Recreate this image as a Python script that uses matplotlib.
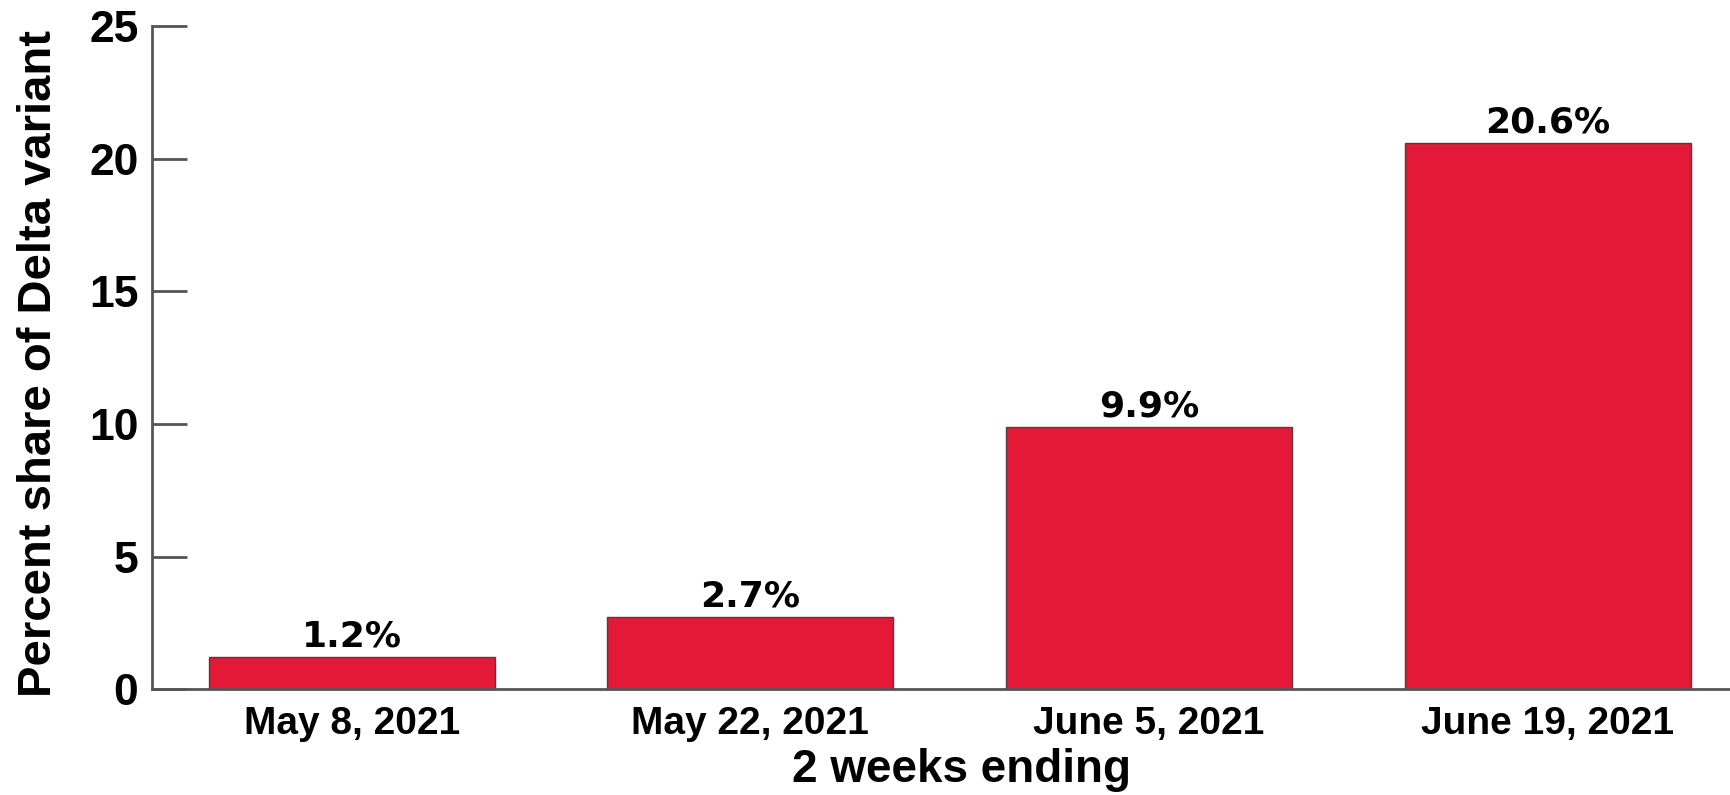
import matplotlib
matplotlib.use("Agg")
import matplotlib.pyplot as plt

categories = ["May 8, 2021", "May 22, 2021", "June 5, 2021", "June 19, 2021"]
values = [1.2, 2.7, 9.9, 20.6]
bar_labels = ["1.2%", "2.7%", "9.9%", "20.6%"]
yticks = [0, 5, 10, 15, 20, 25]

plt.rcParams['font.family'] = ['Liberation Sans', 'DejaVu Sans']

fig = plt.figure(figsize=(17.31, 7.95), dpi=100)
ax = fig.add_axes([0.088, 0.1333, 0.912, 0.8334])

x = list(range(len(categories)))
bars = ax.bar(x, values, width=0.717, color='#E31937', edgecolor='#5a3a3a', linewidth=1.0, zorder=2)

for xi, v, lab in zip(x, values, bar_labels):
    ax.annotate(lab, (xi, v), xytext=(0, 2.5), textcoords='offset points',
                ha='center', va='bottom', fontsize=26, fontweight='bold',
                family=['DejaVu Sans'], color='black')

ax.set_xlim(-0.5, 3.46)
ax.set_ylim(0, 25)
ax.set_yticks(yticks)
ax.set_xticks(x)
ax.set_xticklabels(categories, fontsize=28, fontweight='bold')
ax.set_yticklabels([str(t) for t in yticks], fontsize=32, fontweight='bold')

ax.tick_params(axis='y', direction='in', length=25, width=2, color='#555555', pad=10)
ax.tick_params(axis='x', length=0, pad=12)

for s in ['top', 'right']:
    ax.spines[s].set_visible(False)
for s in ['left', 'bottom']:
    ax.spines[s].set_color('#555555')
    ax.spines[s].set_linewidth(2)
    ax.spines[s].set_zorder(3)

ax.set_ylabel("Percent share of Delta variant", fontsize=34, fontweight='bold', va='center')
ax.yaxis.set_label_coords(-0.072, 0.492)
ax.set_xlabel("2 weeks ending", fontsize=33, fontweight='bold', va='center')
ax.xaxis.set_label_coords(0.5126, -0.122)

fig.savefig("out.png", dpi=100)
